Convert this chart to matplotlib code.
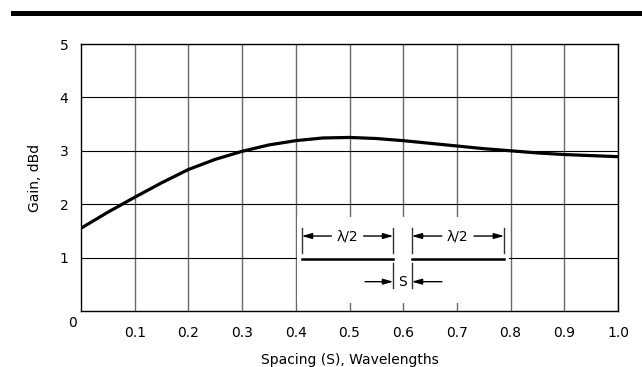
import matplotlib
matplotlib.use("Agg")
import matplotlib.pyplot as plt
from matplotlib.patches import Rectangle

# Data
spacing = [0.0, 0.05, 0.1, 0.15, 0.2, 0.25, 0.3, 0.35, 0.4, 0.45, 0.5,
           0.55, 0.6, 0.65, 0.7, 0.75, 0.8, 0.85, 0.9, 0.95, 1.0]
gain = [1.55, 1.85, 2.13, 2.40, 2.65, 2.84, 2.99, 3.11, 3.19, 3.24, 3.25,
        3.23, 3.19, 3.14, 3.09, 3.04, 3.00, 2.96, 2.93, 2.91, 2.89]
x_ticks = [0.1, 0.2, 0.3, 0.4, 0.5, 0.6, 0.7, 0.8, 0.9, 1.0]
x_tick_labels = ["0.1", "0.2", "0.3", "0.4", "0.5", "0.6", "0.7", "0.8", "0.9", "1.0"]
y_ticks = [1, 2, 3, 4, 5]
y_tick_labels = ["1", "2", "3", "4", "5"]

plt.rcParams['font.family'] = ['DejaVu Sans']

W, H = 642, 367
fig = plt.figure(figsize=(W / 100, H / 100), dpi=100)
ax = fig.add_axes([81 / W, 1 - 311 / H, (618 - 81) / W, (311 - 44) / H])

ax.set_xlim(0, 1.0)
ax.set_ylim(0, 5)

ax.set_xticks(x_ticks)
ax.set_xticklabels(x_tick_labels, fontsize=10)
ax.set_yticks(y_ticks)
ax.set_yticklabels(y_tick_labels, fontsize=10)
ax.tick_params(axis='both', length=0)
ax.tick_params(axis='x', pad=10.5)
ax.tick_params(axis='y', pad=9)

ax.set_axisbelow(True)
ax.xaxis.grid(True, color='#6a6a6a', linewidth=1.0)
ax.yaxis.grid(True, color='black', linewidth=0.8)
for s in ax.spines.values():
    s.set_color('black')
    s.set_linewidth(1.0)

# "0" shared corner label
ax.text(-0.016, -0.22, "0", ha='center', va='center', fontsize=10)

ax.set_xlabel("Spacing (S), Wavelengths", fontsize=10, labelpad=10)
ax.set_ylabel("Gain, dBd", fontsize=10, labelpad=13)

# white area for inset drawing
ax.add_patch(Rectangle((0.4025, 0.15), 0.395, 1.61, facecolor='white',
                       edgecolor='none', zorder=1))

# curve
ax.plot(spacing, gain, color='black', linewidth=2.3, zorder=3,
        solid_capstyle='butt', solid_joinstyle='round')

# inset diagram (two half-wave elements)
el_y = 0.98
xl0, xl1 = 0.411, 0.5816
xr0, xr1 = 0.6158, 0.788
ax.plot([xl0, xl1], [el_y, el_y], color='black', lw=1.8, zorder=4)
ax.plot([xr0, xr1], [el_y, el_y], color='black', lw=1.8, zorder=4)

for xv in (xl0, xl1, xr0, xr1):
    ax.plot([xv, xv], [1.086, 1.554], color='#333333', lw=1.0, zorder=4)
for xv in (xl1, xr0):
    ax.plot([xv, xv], [0.431, 0.899], color='#333333', lw=1.0, zorder=4)

dim_y = 1.404
arrow = dict(arrowstyle='-|>,head_length=0.6,head_width=0.17',
             color='black', lw=1.0, shrinkA=0, shrinkB=0, mutation_scale=10)
for (a, b) in ((xl0, xl1), (xr0, xr1)):
    mid = (a + b) / 2
    ax.text(mid, dim_y, "λ/2", ha='center', va='center', fontsize=10, zorder=5)
    ax.annotate("", xy=(a, dim_y), xytext=(mid - 0.03, dim_y),
                arrowprops=arrow, zorder=5)
    ax.annotate("", xy=(b, dim_y), xytext=(mid + 0.03, dim_y),
                arrowprops=arrow, zorder=5)

s_y = 0.549
ax.annotate("", xy=(xl1, s_y), xytext=(0.529, s_y), arrowprops=arrow, zorder=5)
ax.annotate("", xy=(xr0, s_y), xytext=(0.672, s_y), arrowprops=arrow, zorder=5)
ax.text((xl1 + xr0) / 2, s_y, "S", ha='center', va='center', fontsize=10, zorder=5)

# top thick rule
fig.add_artist(Rectangle((11 / W, 1 - 16 / H), (W - 11) / W, 5 / H,
                         transform=fig.transFigure, facecolor='black',
                         edgecolor='none'))

fig.savefig("out.png", dpi=100)
